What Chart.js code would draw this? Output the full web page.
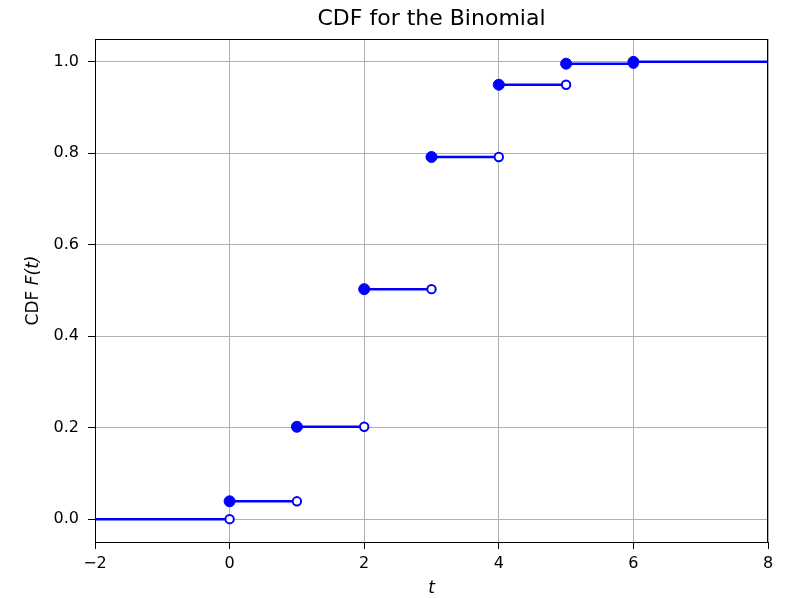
<!DOCTYPE html>
<html>
<head>
<meta charset="utf-8">
<script src="https://cdn.jsdelivr.net/npm/chart.js@4"></script>
<style>
  html, body { margin:0; padding:0; background:#fff; }
  #wrap { width:785px; height:598px; }
</style>
</head>
<body>
<div id="wrap"><canvas id="cdf"></canvas></div>
<script>
// --- data ---
const support   = [0, 1, 2, 3, 4, 5, 6];
const cdfValues = [0.039, 0.202, 0.503, 0.792, 0.950, 0.996, 1.0];
const xMin = -2, xMax = 8;
const xTicks = [-2, 0, 2, 4, 6, 8];
const yTicks = [0.0, 0.2, 0.4, 0.6, 0.8, 1.0];

const BLUE = '#0000ff';
const FONT = "'DejaVu Sans', sans-serif";

// step segments, broken with null points
const segs = [{x:xMin, y:0}, {x:support[0], y:0}, {x:support[0], y:null}];
support.forEach((k, i) => {
  const end = i < support.length - 1 ? support[i+1] : xMax;
  segs.push({x:k, y:cdfValues[i]}, {x:end, y:cdfValues[i]}, {x:end, y:null});
});
const filled = support.map((k, i) => ({x:k, y:cdfValues[i]}));
const open   = support.map((k, i) => ({x:k, y: i === 0 ? 0 : cdfValues[i-1]}));

// frame + title + axis labels (mixed italic)
const decor = {
  id: 'decor',
  afterDraw(chart) {
    const {ctx, chartArea:a} = chart;
    ctx.save();
    ctx.strokeStyle = '#000'; ctx.lineWidth = 1;
    ctx.strokeRect(a.left + 0.5, a.top + 0.5, a.right - a.left - 1, a.bottom - a.top);
    ctx.fillStyle = '#000';
    ctx.textAlign = 'center'; ctx.textBaseline = 'middle';
    ctx.font = `22px ${FONT}`;
    ctx.fillText('CDF for the Binomial', (a.left + a.right) / 2, 19);
    ctx.font = `italic 17px ${FONT}`;
    ctx.fillText('t', (a.left + a.right) / 2, 589);
    // y label: "CDF " + italic "F(t)"
    ctx.translate(34, (a.top + a.bottom) / 2);
    ctx.rotate(-Math.PI / 2);
    ctx.font = `17px ${FONT}`;
    const p1 = 'CDF ';
    const w1 = ctx.measureText(p1).width;
    ctx.font = `italic 17px ${FONT}`;
    const w2 = ctx.measureText('F(t)').width;
    const x0 = -(w1 + w2) / 2;
    ctx.textAlign = 'left';
    ctx.font = `17px ${FONT}`;
    ctx.fillText(p1, x0, 0);
    ctx.font = `italic 17px ${FONT}`;
    ctx.fillText('F(t)', x0 + w1, 0);
    ctx.restore();
  }
};

new Chart(document.getElementById('cdf'), {
  type: 'scatter',
  data: {
    datasets: [
      { data: filled, order: 0, showLine: false, pointRadius: 5.5, pointHoverRadius: 5.5,
        pointBackgroundColor: BLUE, pointBorderColor: BLUE, pointBorderWidth: 1 },
      { data: open, order: 1, showLine: false, pointRadius: 4.2, pointHoverRadius: 4.2,
        pointBackgroundColor: '#fff', pointBorderColor: BLUE, pointBorderWidth: 2 },
      { data: segs, order: 2, showLine: true, spanGaps: false, pointRadius: 0,
        borderColor: BLUE, borderWidth: 2.5 },
    ],
  },
  options: {
    responsive: true, maintainAspectRatio: false, animation: false,
    layout: { padding: { left: 0, right: 17, top: 39, bottom: 0 } },
    plugins: { legend: { display: false }, tooltip: { enabled: false } },
    scales: {
      x: {
        type: 'linear', min: xMin, max: xMax,
        afterBuildTicks: s => { s.ticks = xTicks.map(v => ({value: v})); },
        afterFit: s => { s.height = 56; },
        grid: { color: '#b0b0b0', tickColor: '#000', tickLength: 7 },
        border: { color: '#000' },
        ticks: { color: '#000', padding: 5, font: { family: FONT, size: 16 },
                 callback: v => String(v).replace('-', '\u2212') },
      },
      y: {
        type: 'linear', min: -0.05, max: 1.05,
        afterBuildTicks: s => { s.ticks = yTicks.map(v => ({value: v})); },
        afterFit: s => { s.width = 95; },
        grid: { color: '#b0b0b0', tickColor: '#000', tickLength: 7 },
        border: { color: '#000' },
        ticks: { color: '#000', padding: 9, font: { family: FONT, size: 16 },
                 callback: v => v.toFixed(1) },
      },
    },
  },
  plugins: [decor],
});
</script>
</body>
</html>
